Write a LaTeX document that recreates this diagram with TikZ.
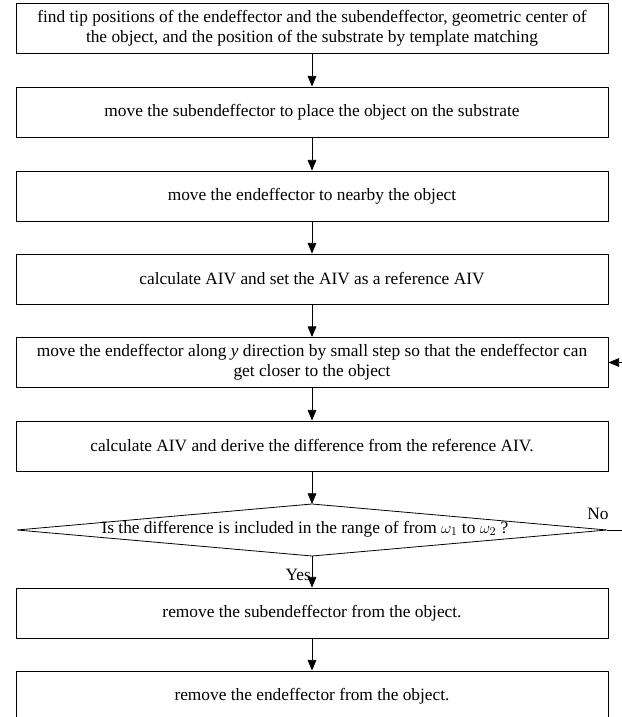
\documentclass[tikz,border=0pt]{standalone}
\usepackage{fontspec}
\setmainfont{Liberation Serif}
\usetikzlibrary{arrows.meta}
\begin{document}
\begin{tikzpicture}[x=0.75pt,y=-0.75pt,line join=round,font=\fontsize{13}{15}\selectfont,
	>={Triangle[length=8pt,width=6.5pt]},
	stepbox/.style={draw,line width=0.6pt,minimum width=444pt,minimum height=37.5pt,inner sep=0pt,align=center},
	flow/.style={->,line width=0.6pt}]
	\useasboundingbox (0,0) rectangle (621,717);
	% process steps
	\node[stepbox] (b1) at (312,28.5) {find tip positions of the endeffector and the subendeffector, geometric center of\\the object, and the position of the substrate by template matching};
	\node[stepbox] (b2) at (312,112) {move the subendeffector to place the object on the substrate};
	\node[stepbox] (b3) at (312,196) {move the endeffector to nearby the object};
	\node[stepbox] (b4) at (312,279) {calculate AIV and set the AIV as a reference AIV};
	\node[stepbox] (b5) at (312,362.5) {move the endeffector along \textit{y} direction by small step so that the endeffector can\\get closer to the object};
	\node[stepbox] (b6) at (312,446) {calculate AIV and derive the difference from the reference AIV.};
	\node[stepbox] (b7) at (312,613) {remove the subendeffector from the object.};
	\node[stepbox] (b8) at (312,696) {remove the endeffector from the object.};
	% decision
	\def\W{295}
	\coordinate (dt) at (312,504);
	\coordinate (db) at (312,556);
	\coordinate (dl) at (312-\W,530);
	\coordinate (dr) at (312+\W,530);
	\draw[line width=0.6pt] (dl)--(dt)--(dr)--(db)--cycle;
	\node (q) at (305,529) {Is the difference is included in the range of from $\omega_1$ to $\omega_2$ ?};
	\foreach \a/\b in {b1/b2,b2/b3,b3/b4,b4/b5,b5/b6}{
		\draw[flow] (\a)--(\b);
	}
	\draw[flow] (b6)--(dt);
	\draw[flow] (db)-- node[pos=0.6,left,inner sep=0.5pt] (yes) {Yes} (b7);
	\draw[flow] (b7)--(b8);
	\draw[flow] (dr)--(640,530) |- (b5);
	\node (no) at (598,514) {No};
\end{tikzpicture}
\end{document}
